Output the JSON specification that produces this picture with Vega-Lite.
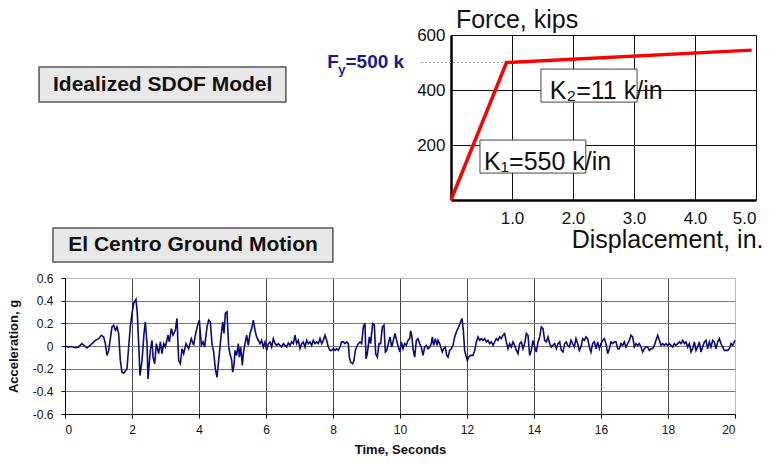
{
  "$schema": "https://vega.github.io/schema/vega-lite/v6.json",
  "background": "white",
  "padding": {"left": 6, "top": 8, "right": 0, "bottom": 0},
  "bounds": "flush",
  "spacing": 243,
  "config": {
    "view": {"stroke": null},
    "font": "Liberation Sans",
    "axis": {"labelFont": "Liberation Sans", "titleFont": "Liberation Sans", "labelColor": "#111", "titleColor": "#111"}
  },
  "vconcat": [
    {
      "bounds": "flush",
      "spacing": 16,
      "hconcat": [
        {
          "width": 370,
          "height": 165,
          "data": {"values": [
            {"label": "Idealized SDOF Model", "x1": -7.0, "x2": 59.7, "y1": 59.4, "y2": 80.6, "xc": 26.4, "yc": 70.0},
            {"label": "El Centro Ground Motion", "x1": -3.24, "x2": 72.4, "y1": -37.6, "y2": -17.0, "xc": 34.6, "yc": -27.3}
          ]},
          "layer": [
            {
              "mark": {"type": "rect", "fill": "#e8e8e8", "stroke": "#555", "strokeWidth": 1.5, "clip": false},
              "encoding": {
                "x": {"field": "x1", "type": "quantitative", "scale": {"domain": [0, 100], "nice": false}, "axis": null},
                "x2": {"field": "x2"},
                "y": {"field": "y1", "type": "quantitative", "scale": {"domain": [0, 100], "nice": false}, "axis": null},
                "y2": {"field": "y2"}
              }
            },
            {
              "mark": {"type": "text", "fontSize": 21, "fontWeight": "bold", "color": "#111", "baseline": "middle", "align": "center", "clip": false},
              "encoding": {
                "x": {"field": "xc", "type": "quantitative"},
                "y": {"field": "yc", "type": "quantitative"},
                "text": {"field": "label"}
              }
            }
          ]
        },
        {
          "width": 305,
          "height": 165,
          "layer": [
            {
              "data": {"values": [{"x1": -0.49, "x2": 0.88, "f": 500}]},
              "mark": {"type": "rule", "color": "#999", "strokeDash": [2, 2], "strokeWidth": 1, "clip": false},
              "encoding": {
                "x": {"field": "x1", "type": "quantitative"},
                "x2": {"field": "x2"},
                "y": {"field": "f", "type": "quantitative"}
              }
            },
            {
              "data": {"values": [{"d": 0, "f": 0}, {"d": 0.91, "f": 500}, {"d": 4.93, "f": 545}]},
              "mark": {"type": "line", "color": "#ff0000", "strokeWidth": 3.5},
              "encoding": {
                "x": {"field": "d", "type": "quantitative", "scale": {"domain": [0, 5], "nice": false},
                  "axis": {"values": [1, 2, 3, 4, 5], "format": ".1f", "labelFontSize": 17, "labelPadding": 10, "ticks": false,
                    "grid": true, "gridColor": "#111", "gridWidth": 1, "domainColor": "#000", "domainWidth": 2.5,
                    "title": "Displacement, in.", "titleFontSize": 25, "titleFontWeight": "normal", "titleX": 312, "titleY": 47,
                    "titleAlign": "right", "titleBaseline": "alphabetic", "titleAngle": 0}},
                "y": {"field": "f", "type": "quantitative", "scale": {"domain": [0, 600], "nice": false},
                  "axis": {"values": [200, 400, 600], "labelFontSize": 17, "labelPadding": 6, "ticks": false,
                    "grid": true, "gridColor": "#111", "gridWidth": 1, "domainColor": "#000", "domainWidth": 2.5, "title": null}}
              }
            },
            {
              "data": {"values": [
                {"x1": 1.475, "x2": 3.05, "y1": 356, "y2": 476},
                {"x1": 0.475, "x2": 2.21, "y1": 98, "y2": 218}
              ]},
              "mark": {"type": "rect", "fill": "white", "stroke": "#444", "strokeWidth": 1},
              "encoding": {
                "x": {"field": "x1", "type": "quantitative"},
                "x2": {"field": "x2"},
                "y": {"field": "y1", "type": "quantitative"},
                "y2": {"field": "y2"}
              }
            },
            {
              "data": {"values": [
                {"label": "K₂=11 k/in", "d": 1.62, "f": 367},
                {"label": "K₁=550 k/in", "d": 0.54, "f": 109},
                {"label": "Force, kips", "d": 0.08, "f": 624}
              ]},
              "mark": {"type": "text", "fontSize": 25, "align": "left", "baseline": "alphabetic", "color": "#111", "clip": false},
              "encoding": {
                "x": {"field": "d", "type": "quantitative"},
                "y": {"field": "f", "type": "quantitative"},
                "text": {"field": "label"}
              }
            },
            {
              "data": {"values": [
                {"label": "F", "d": -2.03, "f": 480},
                {"label": "=500 k", "d": -1.73, "f": 480}
              ]},
              "mark": {"type": "text", "fontSize": 19, "fontWeight": "bold", "align": "left", "baseline": "alphabetic", "color": "#1a1a8f", "clip": false},
              "encoding": {
                "x": {"field": "d", "type": "quantitative"},
                "y": {"field": "f", "type": "quantitative"},
                "text": {"field": "label"}
              }
            },
            {
              "data": {"values": [{"label": "y", "d": -1.85, "f": 458}]},
              "mark": {"type": "text", "fontSize": 13, "fontWeight": "bold", "align": "left", "baseline": "alphabetic", "color": "#1a1a8f", "clip": false},
              "encoding": {
                "x": {"field": "d", "type": "quantitative"},
                "y": {"field": "f", "type": "quantitative"},
                "text": {"field": "label"}
              }
            }
          ]
        }
      ]
    },
    {
      "width": 670,
      "height": 136,
      "view": {"stroke": "#bbb"},
      "data": {"values": [
        {"t":0,"a":0},{"t":0.1,"a":-0.01},{"t":0.2,"a":-0.005},{"t":0.3,"a":-0.015},{"t":0.4,"a":-0.01},{"t":0.507,"a":0.021},{"t":0.657,"a":-0.018},{"t":0.806,"a":0.021},{"t":0.905,"a":0.05},{"t":1.005,"a":0.065},{"t":1.085,"a":0.095},{"t":1.154,"a":0.08},{"t":1.204,"a":0.021},{"t":1.254,"a":-0.083},{"t":1.303,"a":-0.039},{"t":1.403,"a":0.169},{"t":1.453,"a":0.184},{"t":1.502,"a":0.139},{"t":1.552,"a":0.169},{"t":1.602,"a":0.11},{"t":1.652,"a":-0.127},{"t":1.701,"a":-0.231},{"t":1.751,"a":-0.24},{"t":1.851,"a":-0.201},{"t":1.9,"a":-0.009},{"t":1.95,"a":0.169},{"t":2.0,"a":0.287},{"t":2.05,"a":0.376},{"t":2.119,"a":0.412},{"t":2.159,"a":0.287},{"t":2.199,"a":0.021},{"t":2.239,"a":-0.261},{"t":2.299,"a":-0.127},{"t":2.358,"a":0.11},{"t":2.398,"a":0.213},{"t":2.448,"a":0.021},{"t":2.478,"a":-0.29},{"t":2.547,"a":-0.039},{"t":2.597,"a":0.05},{"t":2.627,"a":-0.098},{"t":2.677,"a":-0.157},{"t":2.726,"a":0.021},{"t":2.796,"a":-0.068},{"t":2.846,"a":0.036},{"t":2.896,"a":-0.068},{"t":2.945,"a":0.021},{"t":2.995,"a":-0.009},{"t":3.075,"a":0.095},{"t":3.114,"a":0.036},{"t":3.174,"a":0.154},{"t":3.224,"a":0.095},{"t":3.294,"a":0.139},{"t":3.343,"a":0.243},{"t":3.393,"a":-0.127},{"t":3.443,"a":-0.157},{"t":3.493,"a":-0.024},{"t":3.542,"a":-0.068},{"t":3.612,"a":0.021},{"t":3.692,"a":-0.024},{"t":3.771,"a":0.065},{"t":3.841,"a":0.006},{"t":3.891,"a":0.095},{"t":3.96,"a":0.184},{"t":4.01,"a":0.228},{"t":4.07,"a":0.006},{"t":4.119,"a":0.036},{"t":4.169,"a":-0.009},{"t":4.239,"a":0.169},{"t":4.289,"a":0.228},{"t":4.338,"a":0.213},{"t":4.388,"a":0.021},{"t":4.438,"a":-0.053},{"t":4.488,"a":-0.201},{"t":4.537,"a":-0.276},{"t":4.587,"a":-0.127},{"t":4.657,"a":0.08},{"t":4.706,"a":0.213},{"t":4.746,"a":0.11},{"t":4.786,"a":0.287},{"t":4.836,"a":0.302},{"t":4.886,"a":-0.009},
        {"t":4.925,"a":-0.068},{"t":4.975,"a":-0.127},{"t":5.005,"a":-0.231},{"t":5.045,"a":-0.172},{"t":5.075,"a":-0.039},{"t":5.124,"a":-0.083},{"t":5.174,"a":0.021},{"t":5.204,"a":-0.098},{"t":5.244,"a":-0.009},{"t":5.294,"a":-0.172},{"t":5.323,"a":-0.068},{"t":5.373,"a":0.021},{"t":5.423,"a":0.095},{"t":5.473,"a":0.006},{"t":5.522,"a":0.11},{"t":5.572,"a":0.154},{"t":5.622,"a":0.228},{"t":5.672,"a":0.139},{"t":5.721,"a":0.08},{"t":5.771,"a":0.05},{"t":5.821,"a":0.021},{"t":5.871,"a":0.05},{"t":5.92,"a":-0.009},{"t":5.97,"a":0.036},{"t":6.02,"a":-0.039},{"t":6.07,"a":0.021},{"t":6.119,"a":0.036},{"t":6.169,"a":-0.009},{"t":6.219,"a":0.065},{"t":6.269,"a":0.021},{"t":6.318,"a":0.006},{"t":6.368,"a":0.021},{"t":6.418,"a":0.006},{"t":6.468,"a":-0.009},{"t":6.517,"a":0.021},{"t":6.567,"a":0.006},{"t":6.617,"a":-0.009},{"t":6.667,"a":0.027},{"t":6.716,"a":0.006},{"t":6.766,"a":0.036},{"t":6.816,"a":0.021},{"t":6.866,"a":0.095},{"t":6.915,"a":0.021},{"t":6.965,"a":0.05},{"t":7.015,"a":-0.024},{"t":7.065,"a":0.021},{"t":7.114,"a":0.036},{"t":7.164,"a":-0.009},{"t":7.214,"a":0.05},{"t":7.264,"a":0.021},{"t":7.313,"a":0.036},{"t":7.363,"a":0.006},{"t":7.413,"a":0.05},{"t":7.463,"a":0.021},{"t":7.512,"a":0.036},{"t":7.562,"a":0.021},{"t":7.612,"a":0.065},{"t":7.662,"a":0.021},{"t":7.711,"a":0.05},{"t":7.761,"a":0.095},{"t":7.811,"a":0.05},{"t":7.861,"a":-0.009},{"t":7.91,"a":-0.039},{"t":7.96,"a":-0.039},{"t":8.01,"a":-0.024},{"t":8.06,"a":-0.039},{"t":8.109,"a":-0.024},{"t":8.159,"a":-0.039},{"t":8.209,"a":-0.009},{"t":8.259,"a":0.036},{"t":8.308,"a":0.036},{"t":8.358,"a":0.021},{"t":8.408,"a":0.036},{"t":8.458,"a":0.021},{"t":8.488,"a":-0.098},{"t":8.527,"a":-0.142},{"t":8.587,"a":-0.157},{"t":8.627,"a":-0.127},{"t":8.667,"a":-0.039},{"t":8.706,"a":-0.009},{"t":8.756,"a":0.021},{"t":8.806,"a":0.036},{"t":8.856,"a":0.021},{"t":8.905,"a":0.169},{"t":8.955,"a":0.199},{"t":8.985,"a":-0.113},{"t":9.025,"a":-0.068},{"t":9.085,"a":0.08},{"t":9.124,"a":0.021},{"t":9.184,"a":0.199},{"t":9.234,"a":0.184},{"t":9.274,"a":-0.068},{"t":9.323,"a":-0.098},{"t":9.373,"a":0.021},{"t":9.423,"a":0.021},{"t":9.473,"a":0.169},{"t":9.522,"a":0.184},{"t":9.562,"a":-0.053},{"t":9.602,"a":-0.039},{"t":9.652,"a":0.021},{"t":9.701,"a":0.08},{"t":9.751,"a":-0.009},{"t":9.801,"a":0.05},{"t":9.851,"a":0.11},{"t":9.9,"a":0.05},{"t":9.95,"a":-0.009},{"t":10.0,"a":-0.053},
        {"t":10.04,"a":0.036},{"t":10.09,"a":-0.024},{"t":10.139,"a":0.021},{"t":10.189,"a":0.006},{"t":10.239,"a":0.05},{"t":10.289,"a":0.065},{"t":10.318,"a":0.133},{"t":10.358,"a":0.08},{"t":10.388,"a":-0.024},{"t":10.438,"a":-0.098},{"t":10.488,"a":0.05},{"t":10.537,"a":0.065},{"t":10.587,"a":0.021},{"t":10.637,"a":-0.009},{"t":10.687,"a":-0.083},{"t":10.736,"a":-0.009},{"t":10.786,"a":0.006},{"t":10.836,"a":-0.024},{"t":10.886,"a":-0.009},{"t":10.935,"a":0.021},{"t":10.965,"a":0.08},{"t":11.005,"a":0.006},{"t":11.055,"a":0.065},{"t":11.104,"a":0.006},{"t":11.134,"a":0.05},{"t":11.184,"a":0.021},{"t":11.214,"a":-0.009},{"t":11.264,"a":-0.053},{"t":11.303,"a":-0.024},{"t":11.353,"a":-0.009},{"t":11.393,"a":-0.083},{"t":11.433,"a":-0.098},{"t":11.483,"a":-0.039},{"t":11.532,"a":-0.024},{"t":11.582,"a":0.006},{"t":11.632,"a":0.08},{"t":11.682,"a":0.124},{"t":11.751,"a":0.169},{"t":11.811,"a":0.213},{"t":11.851,"a":0.243},{"t":11.891,"a":0.139},{"t":11.93,"a":-0.039},{"t":11.98,"a":-0.098},{"t":12.01,"a":-0.127},{"t":12.05,"a":-0.098},{"t":12.109,"a":-0.083},{"t":12.179,"a":-0.083},{"t":12.229,"a":-0.039},{"t":12.279,"a":0.036},{"t":12.328,"a":0.08},{"t":12.378,"a":0.05},{"t":12.428,"a":0.065},{"t":12.478,"a":0.05},{"t":12.527,"a":0.065},{"t":12.577,"a":0.036},{"t":12.627,"a":0.05},{"t":12.677,"a":0.021},{"t":12.726,"a":0.036},{"t":12.776,"a":0.006},{"t":12.826,"a":0.036},{"t":12.876,"a":0.065},{"t":12.925,"a":0.05},{"t":12.975,"a":0.08},{"t":13.025,"a":0.065},{"t":13.075,"a":0.095},{"t":13.124,"a":0.11},{"t":13.174,"a":0.036},{"t":13.224,"a":-0.024},{"t":13.274,"a":0.021},{"t":13.323,"a":-0.009},{"t":13.373,"a":0.036},{"t":13.423,"a":0.006},{"t":13.473,"a":-0.039},{"t":13.522,"a":-0.068},{"t":13.572,"a":0.021},{"t":13.622,"a":0.036},{"t":13.672,"a":-0.024},{"t":13.721,"a":0.021},{"t":13.771,"a":0.11},{"t":13.821,"a":0.095},{"t":13.871,"a":-0.083},{"t":13.92,"a":-0.039},{"t":13.97,"a":0.05},{"t":14.02,"a":-0.009},{"t":14.07,"a":-0.053},{"t":14.119,"a":0.036},{"t":14.169,"a":0.08},{"t":14.219,"a":0.169},{"t":14.269,"a":0.154},{"t":14.318,"a":0.05},{"t":14.368,"a":0.036},{"t":14.418,"a":0.08},{"t":14.468,"a":0.021},{"t":14.517,"a":-0.009},{"t":14.567,"a":0.006},{"t":14.617,"a":0.021},{"t":14.667,"a":-0.024},{"t":14.716,"a":0.021},{"t":14.766,"a":0.036},{"t":14.816,"a":-0.039},{"t":14.866,"a":-0.053},{"t":14.915,"a":0.021},{"t":14.965,"a":0.036},
        {"t":15.005,"a":0.006},{"t":15.055,"a":-0.009},{"t":15.104,"a":0.05},{"t":15.154,"a":0.021},{"t":15.204,"a":-0.009},{"t":15.254,"a":0.065},{"t":15.303,"a":0.021},{"t":15.353,"a":-0.039},{"t":15.403,"a":-0.009},{"t":15.453,"a":0.065},{"t":15.502,"a":0.05},{"t":15.552,"a":0.08},{"t":15.602,"a":0.065},{"t":15.652,"a":-0.009},{"t":15.701,"a":-0.053},{"t":15.751,"a":0.021},{"t":15.801,"a":0.036},{"t":15.851,"a":-0.024},{"t":15.9,"a":0.036},{"t":15.95,"a":-0.024},{"t":16.0,"a":0.021},{"t":16.05,"a":0.05},{"t":16.1,"a":0.065},{"t":16.149,"a":0.021},{"t":16.199,"a":-0.068},{"t":16.249,"a":-0.024},{"t":16.299,"a":0.036},{"t":16.348,"a":0.021},{"t":16.398,"a":0.036},{"t":16.448,"a":0.036},{"t":16.498,"a":-0.024},{"t":16.547,"a":-0.024},{"t":16.597,"a":0.021},{"t":16.647,"a":0.006},{"t":16.697,"a":0.036},{"t":16.746,"a":-0.009},{"t":16.796,"a":0.021},{"t":16.846,"a":0.05},{"t":16.896,"a":0.095},{"t":16.945,"a":0.08},{"t":16.995,"a":-0.009},{"t":17.045,"a":0.021},{"t":17.095,"a":0.006},{"t":17.144,"a":0.021},{"t":17.194,"a":-0.009},{"t":17.244,"a":-0.053},{"t":17.294,"a":-0.024},{"t":17.343,"a":-0.009},{"t":17.393,"a":-0.009},{"t":17.443,"a":-0.039},{"t":17.493,"a":-0.024},{"t":17.542,"a":-0.024},{"t":17.592,"a":0.006},{"t":17.642,"a":0.05},{"t":17.692,"a":0.095},{"t":17.741,"a":0.05},{"t":17.791,"a":0.006},{"t":17.841,"a":0.021},{"t":17.891,"a":0.006},{"t":17.94,"a":0.021},{"t":17.99,"a":0.006},{"t":18.04,"a":0.021},{"t":18.09,"a":0.006},{"t":18.139,"a":-0.009},{"t":18.189,"a":0.021},{"t":18.239,"a":0.006},{"t":18.289,"a":0.021},{"t":18.338,"a":0.036},{"t":18.388,"a":0.021},{"t":18.438,"a":0.05},{"t":18.488,"a":0.021},{"t":18.537,"a":0.036},{"t":18.587,"a":-0.009},{"t":18.637,"a":0.021},{"t":18.687,"a":-0.053},{"t":18.736,"a":-0.024},{"t":18.786,"a":0.036},{"t":18.836,"a":-0.039},{"t":18.886,"a":-0.009},{"t":18.935,"a":0.036},{"t":18.985,"a":-0.053},{"t":19.035,"a":-0.009},{"t":19.085,"a":0.036},{"t":19.134,"a":0.05},{"t":19.184,"a":-0.024},{"t":19.234,"a":0.036},{"t":19.284,"a":-0.009},{"t":19.333,"a":0.05},{"t":19.383,"a":0.036},{"t":19.433,"a":-0.024},{"t":19.483,"a":0.036},{"t":19.532,"a":0.065},{"t":19.582,"a":0.021},{"t":19.632,"a":-0.009},{"t":19.682,"a":-0.039},{"t":19.731,"a":-0.039},{"t":19.781,"a":-0.039},{"t":19.831,"a":-0.024},{"t":19.881,"a":0.021},{"t":19.93,"a":0.006},{"t":19.98,"a":0.036},{"t":20.0,"a":0.05}
      ]},
      "mark": {"type": "line", "color": "#0a0a80", "strokeWidth": 1.6},
      "encoding": {
        "x": {"field": "t", "type": "quantitative", "scale": {"domain": [0, 20], "nice": false},
          "axis": {"values": [0, 2, 4, 6, 8, 10, 12, 14, 16, 18, 20], "labelFontSize": 12, "labelPadding": 6, "tickSize": 4, "tickColor": "#000",
            "grid": true, "gridColor": {"condition": {"test": "datum.value == 20", "value": "#bbb"}, "value": "#444"},
            "domainColor": "#000", "domainWidth": 1,
            "title": "Time, Seconds", "titleFontSize": 13, "titleFontWeight": "bold", "titlePadding": 8}},
        "y": {"field": "a", "type": "quantitative", "scale": {"domain": [-0.6, 0.6], "nice": false},
          "axis": {"values": [-0.6, -0.4, -0.2, 0, 0.2, 0.4, 0.6], "labelExpr": "datum.value == 0 ? '0' : (datum.value < 0 ? '-' : '') + format(abs(datum.value), '.1f')",
            "labelFontSize": 12, "labelPadding": 8, "tickSize": 4, "tickColor": "#000",
            "grid": true, "gridColor": {"condition": {"test": "datum.value == 0.6", "value": "#bbb"}, "value": "#777"},
            "domainColor": "#000", "domainWidth": 1,
            "title": "Acceleration, g", "titleFontSize": 13, "titleFontWeight": "bold", "titlePadding": 12}}
      }
    }
  ]
}
